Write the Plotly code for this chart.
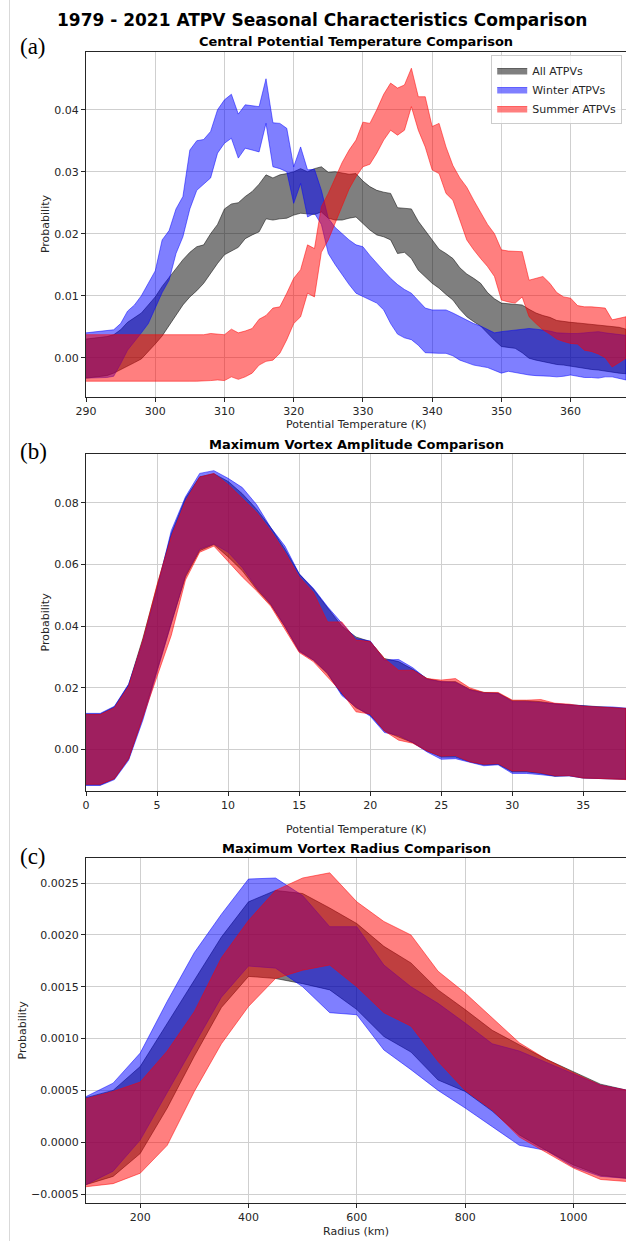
import plotly.graph_objects as go

# ---------------- Panel (a): Central Potential Temperature ----------------
theta_k = list(range(290, 369))

all_upper_a = [
    .0030, .0031, .0033, .0034, .0037, .0045, .0057, .0065, .0072, .0085,
    .0098, .0115, .0130, .0145, .0158, .0170, .0179, .0182, .0200, .0215,
    .0240, .0248, .0250, .0260, .0268, .0280, .0295, .0290, .0295, .0297,
    .0300, .0305, .0300, .0305, .0308, .0299, .0300, .0298, .0296, .0297,
    .0285, .0276, .0270, .0267, .0265, .0242, .0241, .0240, .0220, .0205,
    .0190, .0175, .0168, .0160, .0145, .0135, .0128, .0120, .0105, .0095,
    .0088, .0087, .0086, .0085, .0078, .0072, .0068, .0065, .0060, .0058,
    .0057, .0056, .0055, .0054, .0053, .0052, .0051, .0049, .0046]
all_lower_a = [
    -.0033, -.0032, -.0030, -.0029, -.0025, -.0020, -.0014, -.0008, -.0002, .0010,
    .0022, .0035, .0052, .0068, .0085, .0098, .0108, .0120, .0135, .0152,
    .0166, .0172, .0178, .0192, .0198, .0203, .0224, .0222, .0224, .0225,
    .0230, .0233, .0232, .0231, .0235, .0225, .0222, .0222, .0225, .0227,
    .0216, .0206, .0198, .0195, .0190, .0168, .0170, .0160, .0141, .0130,
    .0120, .0112, .0102, .0093, .0078, .0066, .0058, .0051, .0040, .0028,
    .0018, .0016, .0015, .0008, -.0001, -.0004, -.0007, -.0009, -.0011, -.0012,
    -.0014, -.0016, -.0017, -.0019, -.0020, -.0022, -.0023, -.0025, -.0026]
winter_upper_a = [
    .0040, .0041, .0042, .0043, .0045, .0055, .0075, .0085, .0100, .0120,
    .0140, .0190, .0205, .0240, .0260, .0335, .0350, .0352, .0365, .0400,
    .0416, .0425, .0393, .0408, .0406, .0405, .0450, .0379, .0378, .0370,
    .0308, .0340, .0303, .0304, .0270, .0225, .0210, .0200, .0190, .0182,
    .0179, .0165, .0152, .0140, .0128, .0118, .0110, .0104, .0092, .0080,
    .0077, .0077, .0077, .0072, .0066, .0060, .0055, .0051, .0046, .0040,
    .0042, .0043, .0045, .0046, .0047, .0046, .0045, .0043, .0040, .0039,
    .0039, .0039, .0040, .0041, .0042, .0040, .0039, .0037, .0036]
winter_lower_a = [
    -.0033, -.0033, -.0032, -.0032, -.0030, -.0010, .0012, .0025, .0040, .0055,
    .0080, .0105, .0125, .0168, .0195, .0240, .0270, .0280, .0290, .0330,
    .0346, .0354, .0322, .0338, .0335, .0332, .0378, .0308, .0305, .0300,
    .0249, .0281, .0227, .0233, .0215, .0168, .0150, .0133, .0118, .0104,
    .0098, .0093, .0088, .0077, .0055, .0038, .0032, .0029, .0020, .0008,
    .0007, .0007, .0007, .0003, -.0004, -.0008, -.0012, -.0014, -.0016, -.0020,
    -.0025, -.0022, -.0024, -.0026, -.0028, -.0029, -.0030, -.0030, -.0031, -.0030,
    -.0028, -.0030, -.0032, -.0032, -.0033, -.0031, -.0031, -.0034, -.0036]
summer_upper_a = [
    .0037, .0037, .0037, .0037, .0037, .0037, .0037, .0037, .0037, .0037,
    .0037, .0037, .0037, .0037, .0037, .0037, .0037, .0037, .0039, .0038,
    .0037, .0046, .0040, .0043, .0047, .0062, .0068, .0080, .0082, .0104,
    .0128, .0142, .0182, .0176, .0244, .0265, .0290, .0315, .0335, .0351,
    .0380, .0378, .0400, .0425, .0443, .0435, .0440, .0467, .0421, .0421,
    .0373, .0378, .0340, .0310, .0290, .0275, .0254, .0235, .0215, .0200,
    .0174, .0172, .0172, .0171, .0125, .0128, .0131, .0120, .0105, .0098,
    .0096, .0084, .0082, .0082, .0081, .0080, .0061, .0063, .0066]
summer_lower_a = [
    -.0038, -.0038, -.0038, -.0038, -.0038, -.0038, -.0038, -.0038, -.0038, -.0038,
    -.0038, -.0038, -.0038, -.0038, -.0038, -.0038, -.0038, -.0038, -.0037, -.0036,
    -.0037, -.0031, -.0035, -.0031, -.0025, -.0012, -.0006, -.0004, .0007, .0029,
    .0055, .0066, .0104, .0098, .0170, .0190, .0217, .0245, .0272, .0292,
    .0308, .0312, .0330, .0351, .0367, .0359, .0367, .0405, .0367, .0340,
    .0303, .0297, .0265, .0254, .0222, .0190, .0174, .0160, .0147, .0131,
    .0093, .0090, .0088, .0098, .0066, .0055, .0045, .0038, .0030, .0026,
    .0023, .0022, .0012, .0010, .0006, .0000, -.0015, -.0008, -.0001]

# ---------------- Panel (b): Maximum Vortex Amplitude ----------------
amplitude = list(range(0, 39))
all_upper_b = [
    .0115, .0115, .0138, .0210, .0360, .0530, .0700, .0815, .0885, .0895,
    .0870, .0830, .0780, .0720, .0650, .0570, .0520, .0460, .0400, .0365,
    .0350, .0295, .0285, .0260, .0230, .0220, .0220, .0195, .0185, .0183,
    .0158, .0158, .0155, .0148, .0145, .0140, .0138, .0136, .0133]
all_lower_b = [
    -.0115, -.0115, -.0095, -.0030, .0105, .0255, .0410, .0560, .0645, .0665,
    .0625, .0580, .0520, .0470, .0398, .0320, .0290, .0245, .0180, .0135,
    .0112, .0060, .0040, .0022, -.0005, -.0025, -.0025, -.0040, -.0050, -.0048,
    -.0073, -.0073, -.0078, -.0087, -.0085, -.0093, -.0094, -.0095, -.0097]
winter_upper_b = [
    .0117, .0117, .0140, .0212, .0350, .0520, .0710, .0820, .0896, .0905,
    .0880, .0850, .0795, .0720, .0660, .0570, .0523, .0463, .0410, .0360,
    .0352, .0290, .0292, .0265, .0228, .0220, .0218, .0193, .0183, .0182,
    .0155, .0155, .0152, .0148, .0145, .0140, .0138, .0138, .0134]
winter_lower_b = [
    -.0117, -.0117, -.0098, -.0035, .0095, .0250, .0410, .0565, .0650, .0667,
    .0640, .0590, .0525, .0472, .0400, .0318, .0290, .0248, .0175, .0138,
    .0108, .0055, .0045, .0022, -.0008, -.0032, -.0030, -.0042, -.0053, -.0050,
    -.0078, -.0078, -.0082, -.0087, -.0086, -.0093, -.0095, -.0096, -.0097]
summer_upper_b = [
    .0113, .0113, .0135, .0205, .0355, .0535, .0690, .0805, .0884, .0896,
    .0860, .0815, .0770, .0710, .0640, .0560, .0510, .0414, .0414, .0355,
    .0350, .0295, .0257, .0257, .0230, .0225, .0230, .0200, .0185, .0185,
    .0160, .0160, .0162, .0150, .0147, .0140, .0138, .0136, .0133]
summer_lower_b = [
    -.0113, -.0113, -.0095, -.0030, .0100, .0235, .0370, .0550, .0640, .0660,
    .0610, .0560, .0515, .0465, .0390, .0315, .0285, .0235, .0185, .0122,
    .0115, .0060, .0030, .0020, -.0005, -.0022, -.0020, -.0040, -.0048, -.0046,
    -.0070, -.0070, -.0076, -.0085, -.0085, -.0093, -.0094, -.0095, -.0098]

# ---------------- Panel (c): Maximum Vortex Radius ----------------
radius_km = list(range(100, 1101, 50))
all_upper_c = [.00043, .00050, .00073, .00115, .00157, .00198, .00232, .00243, .00240, .00226,
               .00211, .00189, .00173, .00147, .00128, .00108, .00094, .00080, .00068, .00056, .00050]
all_lower_c = [-.00041, -.00033, -.00011, .00033, .00083, .00130, .00160, .00158, .00153, .00147,
               .00128, .00102, .00087, .00060, .00049, .00030, .00007, -.00008, -.00022, -.00032, -.00035]
winter_upper_c = [.00044, .00057, .00086, .00136, .00183, .00220, .00254, .00255, .00238, .00208,
                  .00208, .00171, .00150, .00134, .00115, .00095, .00088, .00077, .00066, .00055, .00050]
winter_lower_c = [-.00041, -.00028, .00002, .00049, .00094, .00140, .00170, .00168, .00150, .00125,
                  .00123, .00089, .00070, .00050, .00033, .00015, -.00003, -.00008, -.00024, -.00033, -.00035]
summer_upper_c = [.00042, .00049, .00058, .00088, .00126, .00178, .00214, .00243, .00255, .00260,
                  .00232, .00213, .00200, .00165, .00144, .00120, .00096, .00080, .00067, .00055, .00050]
summer_lower_c = [-.00043, -.00040, -.00030, -.00003, .00049, .00095, .00131, .00158, .00166, .00171,
                  .00150, .00125, .00112, .00078, .00050, .00031, .00005, -.00010, -.00025, -.00036, -.00038]

series_names = ["All ATPVs", "Winter ATPVs", "Summer ATPVs"]
fill_colors = ["rgba(0,0,0,0.5)", "rgba(0,0,255,0.5)", "rgba(255,0,0,0.5)"]

W, H = 626, 1241
ML = 86
PW = W - ML


def py(p):
    return 1 - p / H


def px(p):
    return (p - ML) / PW


fig = go.Figure()

panels = [
    ("", theta_k, [(all_upper_a, all_lower_a), (winter_upper_a, winter_lower_a), (summer_upper_a, summer_lower_a)]),
    ("2", amplitude, [(all_upper_b, all_lower_b), (winter_upper_b, winter_lower_b), (summer_upper_b, summer_lower_b)]),
    ("3", radius_km, [(all_upper_c, all_lower_c), (winter_upper_c, winter_lower_c), (summer_upper_c, summer_lower_c)]),
]

for pi, (suffix, xs, bands) in enumerate(panels):
    for si, (up, lo) in enumerate(bands):
        fig.add_trace(go.Scatter(
            x=list(xs) + list(xs)[::-1],
            y=list(up) + list(lo)[::-1],
            fill="toself",
            fillcolor=fill_colors[si],
            line=dict(color=fill_colors[si], width=1),
            mode="lines",
            name=series_names[si],
            legendgroup=series_names[si],
            showlegend=(pi == 0),
            hoverinfo="skip",
            xaxis="x" + suffix,
            yaxis="y" + suffix,
        ))

axis_common = dict(
    showline=True, linecolor="#262626", linewidth=1, mirror=True,
    ticks="outside", ticklen=4, tickcolor="#262626", tickwidth=1,
    showgrid=True, gridcolor="#cfcfcf", gridwidth=1, zeroline=False,
    tickfont=dict(family="DejaVu Sans", size=11, color="#262626"),
)

# plot area pixel boxes (top, bottom)
boxes = [(51.5, 396.7), (454.3, 790.7), (858.3, 1202.7)]

fig.update_layout(
    width=W, height=H,
    margin=dict(l=ML, r=0, t=0, b=0),
    paper_bgcolor="white", plot_bgcolor="white",
    font=dict(family="DejaVu Sans", color="#262626"),
    xaxis=dict(axis_common, domain=[0, 1], anchor="y", range=[290, 368], dtick=10, tick0=290),
    yaxis=dict(axis_common, domain=[py(boxes[0][1]), py(boxes[0][0])], anchor="x",
               range=[-0.0063, 0.0494], dtick=0.01, tick0=0, tickformat=".2f"),
    xaxis2=dict(axis_common, domain=[0, 1], anchor="y2", range=[0, 38], dtick=5, tick0=0),
    yaxis2=dict(axis_common, domain=[py(boxes[1][1]), py(boxes[1][0])], anchor="x2",
                range=[-0.0134, 0.0958], dtick=0.02, tick0=0, tickformat=".2f"),
    xaxis3=dict(axis_common, domain=[0, 1], anchor="y3", range=[100, 1097],
                tickvals=[200, 400, 600, 800, 1000]),
    yaxis3=dict(axis_common, domain=[py(boxes[2][1]), py(boxes[2][0])], anchor="x3",
                range=[-0.000584, 0.00274], dtick=0.0005, tick0=0, tickformat=".4f"),
    legend=dict(
        x=0.993, xanchor="right", y=py(55), yanchor="top",
        bgcolor="rgba(255,255,255,0.8)", bordercolor="#cccccc", borderwidth=1,
        font=dict(family="DejaVu Sans", size=11, color="#262626"),
        tracegroupgap=0, itemwidth=30,
    ),
    showlegend=True,
)

ann = []
# main title
ann.append(dict(text="<b>1979 - 2021 ATPV Seasonal Characteristics Comparison</b>",
                x=px(322), y=py(20), xref="paper", yref="paper", showarrow=False,
                xanchor="center", yanchor="middle",
                font=dict(family="DejaVu Sans", size=17, color="black")))
subtitles = ["Central Potential Temperature Comparison",
             "Maximum Vortex Amplitude Comparison",
             "Maximum Vortex Radius Comparison"]
subtitle_y = [41, 444, 848]
for t, yy in zip(subtitles, subtitle_y):
    ann.append(dict(text="<b>" + t + "</b>", x=0.5, y=py(yy), xref="paper", yref="paper",
                    showarrow=False, xanchor="center", yanchor="middle",
                    font=dict(family="DejaVu Sans", size=13, color="black")))
# panel letters
for t, yy in zip(["(a)", "(b)", "(c)"], [46, 451, 856]):
    ann.append(dict(text=t, x=px(33), y=py(yy), xref="paper", yref="paper",
                    showarrow=False, xanchor="center", yanchor="middle",
                    font=dict(family="Liberation Serif", size=23, color="black")))
# x titles
for t, yy in zip(["Potential Temperature (K)", "Potential Temperature (K)", "Radius (km)"], [424, 829, 1231]):
    ann.append(dict(text=t, x=0.5, y=py(yy), xref="paper", yref="paper",
                    showarrow=False, xanchor="center", yanchor="middle",
                    font=dict(family="DejaVu Sans", size=11, color="#262626")))
# y titles
for xx, (top, bot) in zip([45, 45, 22], boxes):
    ann.append(dict(text="Probability", x=px(xx), y=py((top + bot) / 2), xref="paper", yref="paper",
                    showarrow=False, xanchor="center", yanchor="middle", textangle=-90,
                    font=dict(family="DejaVu Sans", size=11, color="#262626")))
fig.update_layout(annotations=ann)

# thin page border on the left
fig.add_shape(type="line", xref="paper", yref="paper", x0=px(9.5), x1=px(9.5), y0=0, y1=1,
              line=dict(color="#d9d9d9", width=1))

fig.write_html(
    "out.html",
    config={"displayModeBar": False},
    post_script="document.body.style.margin='0px';document.body.style.overflow='hidden';",
)
